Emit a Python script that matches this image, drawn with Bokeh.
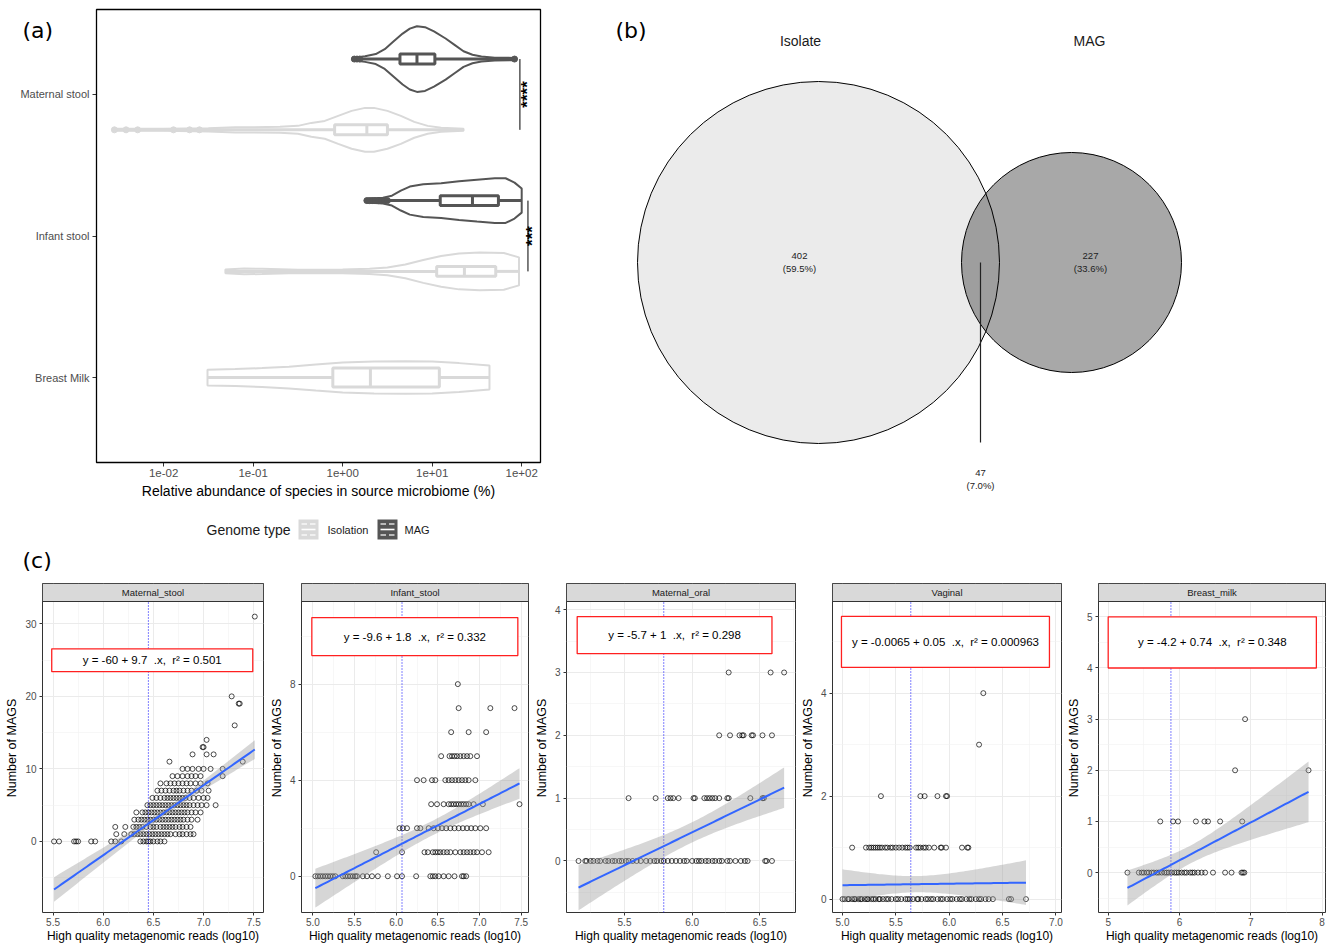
import numpy as np
from bokeh.plotting import figure
from bokeh.models import (Range1d, FixedTicker, Label, BoxAnnotation,
                          CustomJSTickFormatter, PrintfTickFormatter)
from bokeh.layouts import row, column
from bokeh.core.properties import value
from bokeh.embed import file_html
from bokeh.resources import INLINE

SANS = "Liberation Sans"
TAGF = "DejaVu Sans"
NB = "\u00a0"

# ================= panel (a) data =================
categories = ["Breast Milk", "Infant stool", "Maternal stool"]
genome_types = ["Isolation", "MAG"]
type_color = {"Isolation": "#D9D9D9", "MAG": "#555555"}
dodge_offset = {"Isolation": -0.25, "MAG": 0.25}
dodged = {"Breast Milk": False, "Infant stool": True, "Maternal stool": True}

# violin outlines: log10(relative abundance %) and half widths (category units)
ms_mag_logx = [0.13, 0.25, 0.37, 0.47, 0.57, 0.67, 0.75, 0.83, 0.92, 1.02, 1.15, 1.25, 1.35, 1.45, 1.55, 1.70, 1.92]
ms_mag_hw = [0.01, 0.02, 0.035, 0.07, 0.125, 0.18, 0.215, 0.232, 0.225, 0.195, 0.145, 0.10, 0.055, 0.03, 0.018, 0.01, 0.008]
ms_iso_logx = [-2.56, -2.0, -1.5, -1.2, -1.0, -0.7, -0.5, -0.35, -0.2, -0.05, 0.1, 0.25, 0.35, 0.5, 0.65, 0.8, 0.95, 1.1, 1.35]
ms_iso_hw = [0.007, 0.007, 0.011, 0.018, 0.018, 0.021, 0.028, 0.049, 0.063, 0.099, 0.134, 0.155, 0.155, 0.134, 0.099, 0.056, 0.028, 0.014, 0.007]
is_mag_logx = [0.27, 0.45, 0.55, 0.65, 0.75, 0.9, 1.1, 1.3, 1.5, 1.7, 1.82, 1.92, 2.0]
is_mag_hw = [0.014, 0.021, 0.035, 0.07, 0.099, 0.116, 0.123, 0.137, 0.148, 0.158, 0.158, 0.127, 0.085]
is_iso_logx = [-1.31, -1.1, -0.9, -0.5, 0.0, 0.3, 0.5, 0.7, 0.9, 1.1, 1.3, 1.53, 1.8, 1.97]
is_iso_hw = [0.014, 0.021, 0.018, 0.011, 0.014, 0.018, 0.028, 0.049, 0.081, 0.109, 0.127, 0.134, 0.13, 0.099]
bm_iso_logx = [-1.51, -1.2, -0.9, -0.6, -0.3, 0.0, 0.35, 0.7, 1.0, 1.3, 1.64]
bm_iso_hw = [0.056, 0.06, 0.067, 0.077, 0.092, 0.106, 0.113, 0.115, 0.113, 0.102, 0.085]

violins = [
    ("Maternal stool", "Isolation", ms_iso_logx, ms_iso_hw),
    ("Infant stool", "Isolation", is_iso_logx, is_iso_hw),
    ("Breast Milk", "Isolation", bm_iso_logx, bm_iso_hw),
    ("Maternal stool", "MAG", ms_mag_logx, ms_mag_hw),
    ("Infant stool", "MAG", is_mag_logx, is_mag_hw),
]

# box statistics in log10(%): low whisker, q1, median, q3, high whisker
box_cat = ["Maternal stool", "Infant stool", "Breast Milk", "Maternal stool", "Infant stool"]
box_type = ["Isolation", "Isolation", "Isolation", "MAG", "MAG"]
box_lo = [-2.56, -1.31, -1.51, 0.13, 0.27]
box_q1 = [-0.09, 1.05, -0.11, 0.64, 1.09]
box_med = [0.27, 1.36, 0.31, 0.83, 1.45]
box_q3 = [0.50, 1.71, 1.08, 1.03, 1.74]
box_hi = [1.35, 1.97, 1.64, 1.92, 2.0]

outliers = [
    ("Maternal stool", "Isolation", [-2.55, -2.42, -2.29, -1.89, -1.71, -1.60]),
    ("Maternal stool", "MAG", [0.13, 0.16, 0.19, 1.92]),
    ("Infant stool", "MAG", [0.27, 0.30, 0.33, 0.36, 0.40, 0.43, 0.47, 0.50]),
]

sig_labels = ["****", "***"]
sig_cats = ["Maternal stool", "Infant stool"]
sig_line_logx = [1.98, 2.07]
sig_text_logx = [2.07, 2.125]

# ================= panel (b) data =================
venn_sets = ["Isolate", "MAG"]
venn_counts = [402, 227, 47]          # isolate only, MAG only, shared
venn_pcts = ["59.5%", "33.6%", "7.0%"]

# ================= panel (c) data =================
facet_names = ["Maternal_stool", "Infant_stool", "Maternal_oral", "Vaginal", "Breast_milk"]

maternal_stool_rows = [
    (0, [5.51, 5.56, 5.71, 5.73, 5.75, 5.88, 5.92, 6.08, 6.12, 6.18, 6.37, 6.40, 6.43, 6.45, 6.47, 6.50, 6.54, 6.57, 6.61]),
    (1, [6.13, 6.21, 6.28, 6.31, 6.34, 6.37, 6.40, 6.43, 6.46, 6.49, 6.52, 6.55, 6.58, 6.61, 6.64, 6.67, 6.72, 6.76, 6.79, 6.83, 6.87, 6.90]),
    (2, [6.12, 6.22, 6.30, 6.33, 6.36, 6.39, 6.43, 6.47, 6.50, 6.53, 6.57, 6.60, 6.63, 6.66, 6.69, 6.72, 6.76, 6.79, 6.83, 6.87]),
    (3, [6.31, 6.35, 6.38, 6.41, 6.44, 6.47, 6.50, 6.53, 6.56, 6.59, 6.62, 6.65, 6.68, 6.71, 6.74, 6.77, 6.80, 6.84, 6.88, 6.94]),
    (4, [6.33, 6.39, 6.42, 6.45, 6.48, 6.51, 6.54, 6.57, 6.60, 6.63, 6.66, 6.69, 6.72, 6.75, 6.78, 6.81, 6.84, 6.88, 6.92, 6.97]),
    (5, [6.44, 6.47, 6.50, 6.53, 6.56, 6.59, 6.62, 6.65, 6.68, 6.71, 6.74, 6.77, 6.80, 6.83, 6.86, 6.90, 6.94, 6.98, 7.03, 7.12]),
    (6, [6.49, 6.53, 6.57, 6.61, 6.64, 6.67, 6.70, 6.73, 6.76, 6.79, 6.82, 6.86, 6.90, 6.95, 7.00, 7.04]),
    (7, [6.54, 6.58, 6.62, 6.66, 6.70, 6.73, 6.76, 6.80, 6.84, 6.88, 6.93, 6.98, 7.05]),
    (8, [6.57, 6.63, 6.67, 6.71, 6.75, 6.79, 6.83, 6.87, 6.92, 6.97, 7.04]),
    (9, [6.69, 6.74, 6.79, 6.84, 6.88, 6.92, 6.97, 7.19]),
    (10, [6.79, 6.84, 6.89, 6.95, 7.00, 7.07, 7.19]),
    (11, [6.66, 7.39]),
    (12, [6.89, 7.03, 7.10]),
    (13, [6.99, 7.00]),
    (14, [7.03]),
    (16, [7.31]),
    (19, [7.35, 7.36]),
    (20, [7.28]),
    (31, [7.51]),
]
infant_stool_rows = [
    (0, [5.03, 5.06, 5.09, 5.12, 5.15, 5.18, 5.21, 5.24, 5.27, 5.36, 5.39, 5.42, 5.45, 5.48, 5.51, 5.53, 5.60, 5.65, 5.71, 5.78, 5.90, 6.01, 6.07, 6.24, 6.41, 6.44, 6.47, 6.51, 6.57, 6.63, 6.70, 6.79, 6.81, 6.84]),
    (1, [5.76, 6.07, 6.34, 6.38, 6.44, 6.47, 6.50, 6.53, 6.57, 6.61, 6.65, 6.71, 6.77, 6.81, 6.85, 6.89, 6.93, 6.97, 7.03, 7.11]),
    (2, [6.04, 6.08, 6.13, 6.25, 6.29, 6.39, 6.45, 6.50, 6.55, 6.60, 6.65, 6.70, 6.75, 6.80, 6.85, 6.90, 6.95, 7.01, 7.08]),
    (3, [6.42, 6.49, 6.57, 6.63, 6.66, 6.69, 6.72, 6.75, 6.78, 6.81, 6.84, 6.87, 6.93, 7.04, 7.48]),
    (4, [6.25, 6.33, 6.43, 6.47, 6.59, 6.63, 6.67, 6.71, 6.75, 6.79, 6.83, 6.87, 6.95]),
    (5, [6.54, 6.64, 6.67, 6.70, 6.73, 6.77, 6.81, 6.85, 6.89, 6.97]),
    (6, [6.66, 6.87, 7.08]),
    (7, [6.75, 7.13, 7.42]),
    (8, [6.74]),
]
maternal_oral_rows = [
    (0, [5.16, 5.21, 5.22, 5.25, 5.27, 5.30, 5.32, 5.36, 5.38, 5.41, 5.43, 5.46, 5.48, 5.51, 5.53, 5.56, 5.59, 5.62, 5.66, 5.69, 5.72, 5.74, 5.77, 5.79, 5.82, 5.85, 5.88, 5.91, 5.94, 5.96, 6.00, 6.03, 6.05, 6.07, 6.10, 6.12, 6.15, 6.17, 6.20, 6.22, 6.26, 6.28, 6.32, 6.36, 6.39, 6.41, 6.54, 6.55, 6.59]),
    (1, [5.53, 5.73, 5.82, 5.84, 5.86, 5.90, 6.01, 6.02, 6.09, 6.11, 6.13, 6.15, 6.17, 6.20, 6.26, 6.27, 6.43, 6.52, 6.53]),
    (2, [6.20, 6.28, 6.35, 6.37, 6.38, 6.44, 6.45, 6.52, 6.59]),
    (3, [6.27, 6.58, 6.68]),
]
vaginal_rows = [
    (0, [5.00, 5.02, 5.05, 5.06, 5.09, 5.11, 5.12, 5.15, 5.17, 5.18, 5.21, 5.23, 5.24, 5.27, 5.29, 5.31, 5.34, 5.35, 5.38, 5.41, 5.43, 5.46, 5.50, 5.52, 5.55, 5.59, 5.61, 5.63, 5.66, 5.70, 5.71, 5.74, 5.78, 5.80, 5.83, 5.85, 5.89, 5.92, 5.94, 5.98, 6.01, 6.03, 6.07, 6.10, 6.12, 6.16, 6.19, 6.21, 6.25, 6.28, 6.30, 6.34, 6.37, 6.41, 6.56, 6.58, 6.72]),
    (1, [5.09, 5.22, 5.25, 5.27, 5.29, 5.31, 5.33, 5.35, 5.37, 5.40, 5.42, 5.45, 5.47, 5.50, 5.53, 5.56, 5.59, 5.61, 5.63, 5.69, 5.71, 5.73, 5.76, 5.78, 5.81, 5.86, 5.92, 5.93, 5.97, 6.12, 6.17, 6.18]),
    (2, [5.36, 5.73, 5.77, 5.89, 5.97, 5.98]),
    (3, [6.28]),
    (4, [6.32]),
]
breast_milk_rows = [
    (0, [5.27, 5.43, 5.47, 5.50, 5.54, 5.57, 5.61, 5.64, 5.68, 5.71, 5.75, 5.79, 5.82, 5.85, 5.89, 5.93, 5.96, 5.99, 6.03, 6.07, 6.10, 6.15, 6.18, 6.21, 6.26, 6.31, 6.36, 6.47, 6.64, 6.73, 6.87, 6.89, 6.91]),
    (1, [5.73, 5.91, 5.98, 6.23, 6.35, 6.40, 6.57, 6.88]),
    (2, [6.78, 7.81]),
    (3, [6.92]),
]
facet_rows = [maternal_stool_rows, infant_stool_rows, maternal_oral_rows, vaginal_rows, breast_milk_rows]

fit_intercept = [-59.8, -9.45, -5.82, 0.125, -4.2]
fit_slope = [9.65, 1.78, 1.046, 0.029, 0.74]
median_reads = [6.45, 6.07, 5.79, 5.64, 5.88]
eq_labels = [
    "y = -60 + 9.7" + NB * 2 + ".x," + NB * 2 + "r\u00b2 = 0.501",
    "y = -9.6 + 1.8" + NB * 2 + ".x," + NB * 2 + "r\u00b2 = 0.332",
    "y = -5.7 + 1" + NB * 2 + ".x," + NB * 2 + "r\u00b2 = 0.298",
    "y = -0.0065 + 0.05" + NB * 2 + ".x," + NB * 2 + "r\u00b2 = 0.000963",
    "y = -4.2 + 0.74" + NB * 2 + ".x," + NB * 2 + "r\u00b2 = 0.348",
]
# equation label boxes (x0, x1, y0, y1) in each facet's data units
eq_boxes = [(5.487, 7.49, 23.4, 26.56), (4.988, 7.46, 9.19, 10.77), (5.15, 6.59, 3.30, 3.89),
            (4.99, 6.94, 4.50, 5.49), (5.0, 7.92, 4.0, 5.0)]
x_limits = [(5.395, 7.597), (4.864, 7.588), (5.071, 6.764), (4.906, 7.053), (4.864, 8.048)]
y_limits = [(-9.8, 33.08), (-1.51, 11.44), (-0.82, 4.13), (-0.26, 5.78), (-0.78, 5.30)]
x_ticks = [[5.5, 6.0, 6.5, 7.0, 7.5], [5.0, 5.5, 6.0, 6.5, 7.0, 7.5], [5.5, 6.0, 6.5],
           [5.0, 5.5, 6.0, 6.5, 7.0], [5, 6, 7, 8]]
x_minor = [[5.75, 6.25, 6.75, 7.25], [5.25, 5.75, 6.25, 6.75, 7.25], [5.25, 5.75, 6.25, 6.75],
           [5.25, 5.75, 6.25, 6.75], [5.5, 6.5, 7.5]]
y_ticks = [[0, 10, 20, 30], [0, 4, 8], [0, 1, 2, 3, 4], [0, 2, 4], [0, 1, 2, 3, 4, 5]]
y_minor = [[-5, 5, 15, 25], [2, 6, 10], [-0.5, 0.5, 1.5, 2.5, 3.5], [1, 3, 5], [-0.5, 0.5, 1.5, 2.5, 3.5, 4.5]]
x_formats = ["%.1f", "%.1f", "%.1f", "%.1f", "%d"]

# ================= layout constants (pixels) =================
TOP_H = 575
A_W = 608
BOX_L, BOX_R, BOX_T, BOX_B = 96, 540, 9, 462      # violin plot box inside panel (a) canvas
A_LOG = (-2.75, 2.21)                               # log10 limits of the plot box
A_CAT = (0.4, 3.6)                                  # category-axis limits of the plot box

# ================= panel (a) =================
px_dec = (BOX_R - BOX_L) / (A_LOG[1] - A_LOG[0])
px_cat = (BOX_B - BOX_T) / (A_CAT[1] - A_CAT[0])
xr_a = (10 ** (A_LOG[0] - BOX_L / px_dec), 10 ** (A_LOG[1] + (A_W - BOX_R) / px_dec))
yr_a = (A_CAT[0] - (TOP_H - BOX_B) / px_cat, A_CAT[1] + BOX_T / px_cat)

pa = figure(x_axis_type="log", x_range=Range1d(*xr_a), y_range=Range1d(*yr_a),
            frame_width=A_W, frame_height=TOP_H, min_border_left=0, min_border_right=0,
            min_border_top=0, min_border_bottom=0, toolbar_location=None,
            output_backend="svg", title=None)
pa.grid.visible = False
pa.outline_line_color = None
cat_pos = {c: i + 1 for i, c in enumerate(categories)}


def center_of(cat, gt):
    return cat_pos[cat] + (dodge_offset[gt] if dodged[cat] else 0.0)


for cat, gt, lx, hw in violins:
    c = center_of(cat, gt)
    xs = [10 ** v for v in lx] + [10 ** v for v in lx[::-1]]
    ys = [c + h for h in hw] + [c - h for h in hw[::-1]]
    pa.patch(xs, ys, fill_color=None, line_color=type_color[gt], line_width=2)

for i in range(len(box_cat)):
    c = center_of(box_cat[i], box_type[i])
    col = type_color[box_type[i]]
    hh = 0.035 if dodged[box_cat[i]] else 0.067
    pa.segment(x0=[10 ** box_lo[i], 10 ** box_q3[i]], y0=[c, c], x1=[10 ** box_q1[i], 10 ** box_hi[i]], y1=[c, c],
               line_color=col, line_width=3)
    pa.quad(left=[10 ** box_q1[i]], right=[10 ** box_q3[i]], bottom=[c - hh], top=[c + hh],
            fill_color="white", line_color=col, line_width=3)
    pa.segment(x0=[10 ** box_med[i]], x1=[10 ** box_med[i]], y0=[c - hh], y1=[c + hh], line_color=col, line_width=3)

for cat, gt, vals in outliers:
    c = center_of(cat, gt)
    pa.scatter([10 ** v for v in vals], [c] * len(vals), marker="circle", size=6,
               fill_color=type_color[gt], line_color=type_color[gt])

for lab, cat, lx, tx in zip(sig_labels, sig_cats, sig_line_logx, sig_text_logx):
    c = cat_pos[cat]
    pa.segment(x0=[10 ** lx], x1=[10 ** lx], y0=[c - 0.25], y1=[c + 0.25], line_color="black", line_width=1)
    pa.text(x=[10 ** tx], y=[c], text=[lab], angle=np.pi / 2, text_align="center", text_baseline="middle",
            text_font=value(SANS), text_font_size=value("17px"), text_font_style="bold", text_color="black")

pa.add_layout(BoxAnnotation(left=10 ** A_LOG[0], right=10 ** A_LOG[1], bottom=A_CAT[0], top=A_CAT[1],
                            fill_alpha=0, line_color="black", line_alpha=1, line_width=1.3))

pa.xaxis.fixed_location = A_CAT[0]
pa.yaxis.fixed_location = 10 ** A_LOG[0]
pa.xaxis.bounds = (10 ** A_LOG[0], 10 ** A_LOG[1])
pa.yaxis.bounds = A_CAT
pa.xaxis.ticker = FixedTicker(ticks=[0.01, 0.1, 1, 10, 100])
pa.xaxis.formatter = CustomJSTickFormatter(code="""
const e = Math.round(Math.log10(tick));
const a = Math.abs(e);
return "1e" + (e < 0 ? "-" : "+") + (a < 10 ? "0" + a : "" + a);
""")
pa.yaxis.ticker = FixedTicker(ticks=[1, 2, 3])
pa.yaxis.major_label_overrides = {1: categories[0], 2: categories[1], 3: categories[2]}
pa.axis.axis_line_color = None
pa.axis.minor_tick_line_color = None
pa.axis.major_tick_line_color = "#333333"
pa.axis.major_tick_out = 4
pa.axis.major_tick_in = 0
pa.axis.major_label_text_font = SANS
pa.axis.major_label_text_color = "#4D4D4D"
pa.xaxis.major_label_text_font_size = "11.5px"
pa.yaxis.major_label_text_font_size = "11px"
pa.xaxis.major_label_standoff = 2
pa.yaxis.major_label_standoff = 3
pa.xaxis.axis_label = "Relative abundance of species in source microbiome (%)"
pa.xaxis.axis_label_text_font = SANS
pa.xaxis.axis_label_text_font_size = "14px"
pa.xaxis.axis_label_text_font_style = "normal"
pa.xaxis.axis_label_text_color = "black"
pa.xaxis.axis_label_standoff = 3


def scr_label(fig, x, y_page, text, size, font=SANS, color="#1A1A1A"):
    fig.add_layout(Label(x=x, y=TOP_H - y_page, x_units="screen", y_units="screen", text=text,
                         text_font=font, text_font_size=size, text_align="left",
                         text_baseline="middle", text_color=color))


def scr_box(fig, l, r, t_page, b_page, color):
    fig.add_layout(BoxAnnotation(left=l, right=r, top=TOP_H - t_page, bottom=TOP_H - b_page,
                                 left_units="screen", right_units="screen", top_units="screen",
                                 bottom_units="screen", fill_color=color, fill_alpha=1,
                                 line_color=None, level="overlay"))


scr_label(pa, 22, 30, "(a)", "22px", TAGF, "black")
scr_label(pa, 22, 560, "(c)", "22px", TAGF, "black")
# legend: Genome type
LEG_Y = 529
scr_label(pa, 206, LEG_Y, "Genome type", "14px")
key_left = {"Isolation": 298, "MAG": 377}
for gt in genome_types:
    kl = key_left[gt]
    scr_box(pa, kl, kl + 20, LEG_Y - 10, LEG_Y + 10, type_color[gt])
    scr_box(pa, kl + 3, kl + 17, LEG_Y - 0.8, LEG_Y + 0.8, "white")
    for dy in (-5.5, 5.5):
        scr_box(pa, kl + 3, kl + 8.5, LEG_Y + dy - 0.6, LEG_Y + dy + 0.6, "white")
        scr_box(pa, kl + 11.5, kl + 17, LEG_Y + dy - 0.6, LEG_Y + dy + 0.6, "white")
    scr_label(pa, kl + 29 if gt == "Isolation" else kl + 27, LEG_Y, gt, "11px")

# ================= panel (b) =================
VW = 1330 - A_W
pb = figure(x_range=Range1d(0, VW), y_range=Range1d(TOP_H, 0), frame_width=VW, frame_height=TOP_H,
            min_border_left=0, min_border_right=0, min_border_top=0, min_border_bottom=0,
            x_axis_location=None, y_axis_location=None, toolbar_location=None,
            output_backend="svg", title=None)
pb.grid.visible = False
pb.outline_line_color = None
# venn layout (local pixel frame of panel b)
iso_cx, iso_cy, iso_r = 210, 262, 181
mag_cx, mag_cy, mag_r = 463, 262, 110
pb.ellipse(x=[iso_cx], y=[iso_cy], width=[2 * iso_r], height=[2 * iso_r], fill_color="#D7D7D7",
           fill_alpha=0.5, line_color=None)
pb.ellipse(x=[mag_cx], y=[mag_cy], width=[2 * mag_r], height=[2 * mag_r], fill_color="#515151",
           fill_alpha=0.5, line_color=None)
pb.ellipse(x=[iso_cx, mag_cx], y=[iso_cy, mag_cy], width=[2 * iso_r, 2 * mag_r], height=[2 * iso_r, 2 * mag_r],
           fill_color=None, line_color="black", line_width=1)
shared_x = 372
pb.segment(x0=[shared_x], y0=[iso_cy], x1=[shared_x], y1=[442], line_color="#222222", line_width=1.2)
pb.text(x=[192, 481], y=[40, 40], text=venn_sets, text_align="center", text_baseline="middle",
        text_font=value(SANS), text_font_size=value("14px"), text_color="#1A1A1A")
cnt_x = [191, 482, shared_x]
cnt_y = [255, 255, 472]
pb.text(x=cnt_x, y=cnt_y, text=[str(v) for v in venn_counts], text_align="center", text_baseline="middle",
        text_font=value(SANS), text_font_size=value("9.5px"), text_color="#222222")
pb.text(x=cnt_x, y=[v + 13 for v in cnt_y], text=["(" + s + ")" for s in venn_pcts], text_align="center",
        text_baseline="middle", text_font=value(SANS), text_font_size=value("9.5px"), text_color="#222222")
pb.text(x=[7], y=[30], text=["(b)"], text_align="left", text_baseline="middle",
        text_font=value(TAGF), text_font_size=value("22px"), text_color="black")

# ================= panel (c) =================
FH, STRIP = 329, 18
TOPB, BOTB = 8, 29
borders = [(42, 221, 3), (35, 227, 3), (35, 229, 2), (35, 229, 2), (34, 227, 6)]
facets = []
for k in range(5):
    rows_k = facet_rows[k]
    xs = np.array([x for cnt, vals in rows_k for x in vals])
    ys = np.array([cnt for cnt, vals in rows_k for x in vals], dtype=float)
    (x0, x1), (y0, y1) = x_limits[k], y_limits[k]
    strip_h = STRIP * (y1 - y0) / (FH - STRIP)
    lb, fw, rb = borders[k]
    p = figure(x_range=Range1d(x0, x1), y_range=Range1d(y0, y1 + strip_h), frame_width=fw, frame_height=FH,
               min_border_left=lb, min_border_right=rb, min_border_top=TOPB, min_border_bottom=BOTB,
               toolbar_location=None, output_backend="svg", title=None)
    xt = FixedTicker(ticks=x_ticks[k], minor_ticks=x_minor[k])
    yt = FixedTicker(ticks=y_ticks[k], minor_ticks=y_minor[k])
    p.xaxis.ticker = xt
    p.xgrid.ticker = xt
    p.yaxis.ticker = yt
    p.ygrid.ticker = yt
    p.xaxis.formatter = PrintfTickFormatter(format=x_formats[k])
    p.yaxis.formatter = PrintfTickFormatter(format="%d")
    p.grid.grid_line_color = "#EBEBEB"
    p.grid.grid_line_width = 1
    p.grid.minor_grid_line_color = "#F2F2F2"
    p.grid.minor_grid_line_width = 0.6
    p.outline_line_color = "#333333"
    p.outline_line_width = 1
    p.axis.axis_line_color = None
    p.axis.minor_tick_line_color = None
    p.axis.major_tick_line_color = "#333333"
    p.axis.major_tick_out = 3
    p.axis.major_tick_in = 0
    p.axis.major_label_text_font = SANS
    p.axis.major_label_text_font_size = "10px"
    p.axis.major_label_text_color = "#4D4D4D"
    p.xaxis.major_label_standoff = 1
    p.yaxis.major_label_standoff = 2
    p.axis.axis_label_text_font = SANS
    p.xaxis.axis_label_text_font_size = "12px"
    p.yaxis.axis_label_text_font_size = "12.5px"
    p.axis.axis_label_text_font_style = "normal"
    p.axis.axis_label_text_color = "black"
    p.xaxis.axis_label = "High quality metagenomic reads (log10)"
    p.yaxis.axis_label = "Number of MAGS"
    p.xaxis.axis_label_standoff = 0
    p.yaxis.axis_label_standoff = 3

    # points
    p.scatter(xs, ys, marker="circle", size=5, fill_color=None, line_color="black", line_width=0.7)
    # median reads marker
    p.segment(x0=[median_reads[k]], x1=[median_reads[k]], y0=[y0], y1=[y1], line_color="#0000FF",
              line_width=1, line_dash="1 2")
    # regression line with 95% band
    a, b = fit_intercept[k], fit_slope[k]
    n = len(xs)
    xbar = xs.mean()
    sxx = ((xs - xbar) ** 2).sum()
    s = np.sqrt(((ys - (a + b * xs)) ** 2).sum() / (n - 2))
    gx = np.linspace(xs.min(), xs.max(), 80)
    gy = a + b * gx
    hw = 1.97 * s * np.sqrt(1.0 / n + (gx - xbar) ** 2 / sxx)
    p.varea(x=gx, y1=gy - hw, y2=gy + hw, fill_color="#999999", fill_alpha=0.4)
    p.line(gx, gy, line_color="#3366FF", line_width=2)
    # equation label
    bx0, bx1, by0, by1 = eq_boxes[k]
    p.quad(left=[bx0], right=[bx1], bottom=[by0], top=[by1], fill_color="white", line_color="#FF2020",
           line_width=1.3)
    p.text(x=[(bx0 + bx1) / 2], y=[(by0 + by1) / 2], text=[eq_labels[k]], text_align="center",
           text_baseline="middle", text_font=value(SANS), text_font_size=value("11.5px"), text_color="black")
    # facet strip
    p.quad(left=[x0], right=[x1], bottom=[y1], top=[y1 + strip_h], fill_color="#D9D9D9",
           line_color="#333333", line_width=1)
    p.text(x=[(x0 + x1) / 2], y=[y1 + strip_h / 2], text=[facet_names[k]], text_align="center",
           text_baseline="middle", text_font=value(SANS), text_font_size=value("9.5px"), text_color="#1A1A1A")
    facets.append(p)

layout = column(row(pa, pb), row(*facets))
open("out.html", "w").write(file_html(layout, INLINE))
